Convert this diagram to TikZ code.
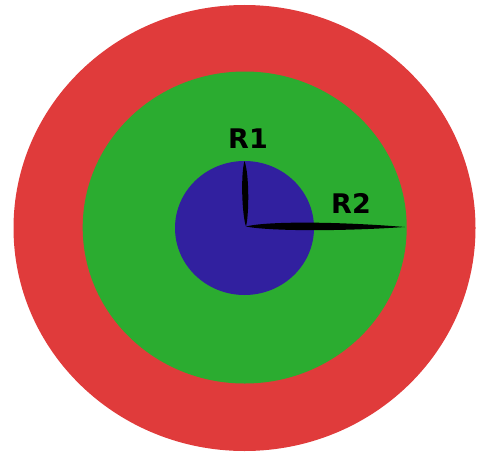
\documentclass[tikz,border=0pt]{standalone}
\usepackage{fontspec}
\setmainfont{DejaVu Sans}
\definecolor{ringred}{RGB}{224,59,59}
\definecolor{ringgreen}{RGB}{43,172,48}
\definecolor{coreblue}{RGB}{49,32,159}
\begin{document}
\begin{tikzpicture}[x=1pt, y=-1pt, lbl/.style={font=\fontsize{27}{30}\selectfont\bfseries, inner sep=0pt}, needle/.style={fill=black}]
	\useasboundingbox (0,0) rectangle (478,452);
	\fill [ringred] (244.5,228) ellipse [x radius=231, y radius=223];
	\fill [ringgreen] (244.7,227.5) ellipse [x radius=162, y radius=156];
	\fill [coreblue] (244.5,228) ellipse [x radius=69.5, y radius=67];
	\coordinate (o) at (246,226.5);
	\coordinate (r1tip) at (244.5,161);
	\coordinate (r2tip) at (405,227);
	\fill [needle] (o) .. controls (242,215) and (240.5,175) .. (r1tip) .. controls (249.5,175) and (249,215) .. (o);
	\fill [needle] (o) .. controls (265,221.5) and (330,221) .. (r2tip) .. controls (330,232) and (265,230.5) .. (o);
	\node [lbl] (r1) at (248,139) {R1};
	\node [lbl] (r2) at (351,203) {R2};
\end{tikzpicture}
\end{document}
